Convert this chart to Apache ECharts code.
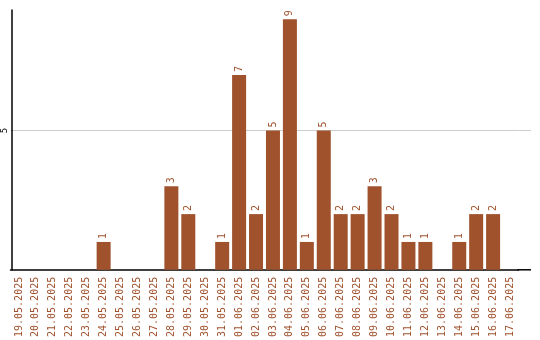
<!DOCTYPE html>
<html><head><meta charset="utf-8">
<script src="https://cdn.jsdelivr.net/npm/echarts@6/dist/echarts.min.js"></script>
<style>html,body{margin:0;padding:0;background:#fff}#c{width:540px;height:340px}</style>
</head><body><div id="c"></div>
<script>
var categories = ["19.05.2025","20.05.2025","21.05.2025","22.05.2025","23.05.2025","24.05.2025","25.05.2025","26.05.2025","27.05.2025","28.05.2025","29.05.2025","30.05.2025","31.05.2025","01.06.2025","02.06.2025","03.06.2025","04.06.2025","05.06.2025","06.06.2025","07.06.2025","08.06.2025","09.06.2025","10.06.2025","11.06.2025","12.06.2025","13.06.2025","14.06.2025","15.06.2025","16.06.2025","17.06.2025"];
var values = [0,0,0,0,0,1,0,0,0,3,2,0,1,7,2,5,9,1,5,2,2,3,2,1,1,0,1,2,2,0];
var yTicks = [5];

var color = '#a0522d';
var font = 'DejaVu Sans Mono';
var chart = echarts.init(document.getElementById('c'), null, {renderer:'canvas'});
chart.setOption({
  animation: false,
  grid: {left: 8.5, top: 10, width: 510, height: 260, containLabel: false},
  xAxis: {
    type: 'category', data: categories,
    axisLine: {lineStyle: {color: '#000', width: 1.5}},
    axisTick: {show: false},
    axisLabel: {rotate: 90, color: color, fontFamily: font, fontSize: 10, margin: 7, interval: 0, padding: [3,0,0,0]}
  },
  yAxis: {
    type: 'value', min: 0, max: 9.33, interval: 5, offset: -1.5,
    axisLine: {show: true, lineStyle: {color: '#000', width: 1.5}},
    axisTick: {show: false},
    splitLine: {show: true, showMaxLine: false, showMinLine: false, lineStyle: {color: '#cccccc', width: 1}},
    axisLabel: {
      rotate: 90, color: '#000', fontFamily: font, fontSize: 9, margin: 3,
      formatter: function(v){ return yTicks.indexOf(v) >= 0 ? String(v) : ''; }
    }
  },
  series: [{
    type: 'bar', data: values, barWidth: 14, z: 3,
    itemStyle: {color: color},
    label: {
      show: true, position: 'top', rotate: 90, align: 'left', verticalAlign: 'middle',
      distance: 3, color: color, fontFamily: font, fontSize: 10,
      formatter: function(p){ return p.value ? String(p.value) : ''; }
    }
  }]
});
var y5 = chart.convertToPixel({yAxisIndex: 0}, yTicks[0]);
var y0 = chart.convertToPixel({yAxisIndex: 0}, 0);
var d = Math.round(y5 * 2);
var y5s = ((d + 1) % 2 === 0) ? d / 2 : (d + 1) / 2;
var gx = 518.5;
chart.setOption({
  graphic: [
    {type: 'line', z: 1, shape: {x1: gx, y1: y5s, x2: 531, y2: y5s}, style: {stroke: '#cccccc', lineWidth: 1}},
    {type: 'line', z: 10, shape: {x1: gx - 1, y1: y0, x2: 531, y2: y0}, style: {stroke: '#000', lineWidth: 1.5}}
  ]
});
</script></body></html>
